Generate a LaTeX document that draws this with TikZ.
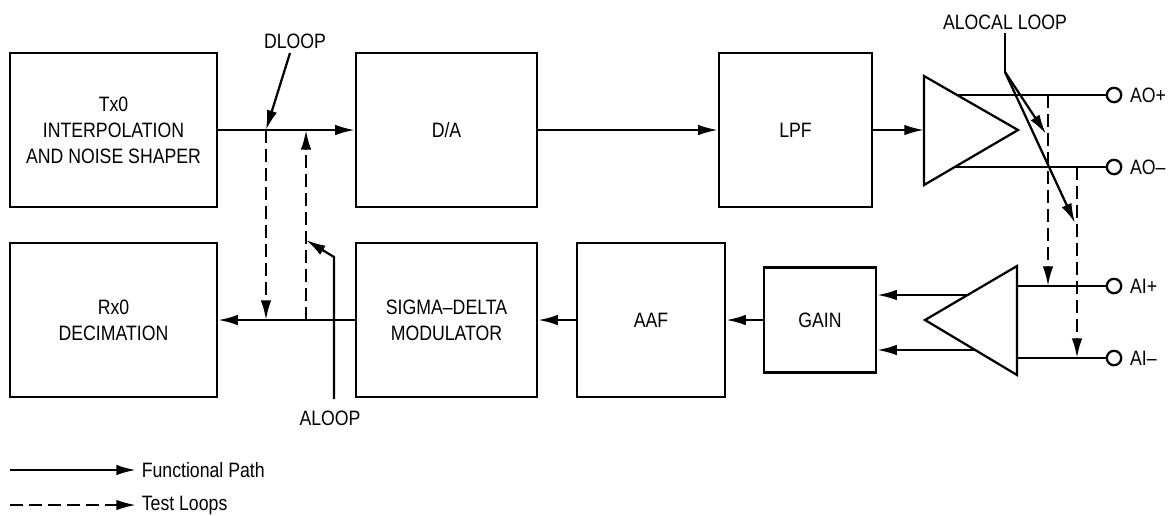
\documentclass[tikz,border=0pt]{standalone}
\usepackage{fontspec}
\setmainfont{Liberation Sans}[FakeStretch=0.85]
\setsansfont{Liberation Sans}[FakeStretch=0.85]
\usetikzlibrary{arrows.meta}

\begin{document}
\begin{tikzpicture}[x = 0.025cm, y = -0.025cm, font=\sffamily\fontsize{14.8}{18.5}\selectfont, line width = 1.6pt, >={Latex[length=14pt, width=7.5pt]}]
	\tikzstyle{blockStyle}=[draw, align = center, inner sep = 0pt, minimum height = 3.85cm]
	\tikzstyle{pinStyle}=[draw, circle, minimum size = 0.36cm, inner sep = 0pt]
	\tikzstyle{loopStyle}=[dash pattern = on 9pt off 4.5pt]
	\useasboundingbox (0,0) rectangle (1169,515);
	% blocks
	\node[blockStyle, minimum width = 5.175cm] (tx) at (113.5,130) {Tx0\\INTERPOLATION\\AND NOISE SHAPER};
	\node[blockStyle, minimum width = 5.175cm] (rx) at (113.5,320) {Rx0\\DECIMATION};
	\node[blockStyle, minimum width = 4.525cm] (da) at (446.5,130) {D/A};
	\node[blockStyle, minimum width = 4.525cm] (sd) at (446.5,320) {SIGMA--DELTA\\MODULATOR};
	\node[blockStyle, minimum width = 3.825cm] (lpf) at (795.5,130) {LPF};
	\node[blockStyle, minimum width = 3.7cm] (aaf) at (651,320) {AAF};
	\node[blockStyle, minimum width = 2.8cm, minimum height = 2.625cm] (gain) at (820,320) {GAIN};
	% amplifiers
	\coordinate (txA1) at (924,76);
	\coordinate (txA2) at (924,185);
	\coordinate (txTip) at (1018,130);
	\coordinate (rxA1) at (1017,266);
	\coordinate (rxA2) at (1017,375);
	\coordinate (rxTip) at (925,320);
	\draw (txA1) -- (txA2) -- (txTip) -- cycle;
	\draw (rxA1) -- (rxA2) -- (rxTip) -- cycle;
	% pins
	\node[pinStyle] (aop) at (1114,95) {};
	\node[pinStyle] (aom) at (1114,167) {};
	\node[pinStyle] (aip) at (1114,286) {};
	\node[pinStyle] (aim) at (1114,358) {};
	\node[anchor = west, inner sep = 0pt] (aopL) at (1129,95) {AO+};
	\node[anchor = west, inner sep = 0pt] (aomL) at (1129,167) {AO--};
	\node[anchor = west, inner sep = 0pt] (aipL) at (1129,286) {AI+};
	\node[anchor = west, inner sep = 0pt] (aimL) at (1129,358) {AI--};
	\coordinate (aopOut) at (957,95);
	\coordinate (aomOut) at (955,167);
	\draw (aopOut) -- (aop);
	\draw (aomOut) -- (aom);
	\draw (rxA1 |- aip) -- (aip);
	\draw (rxA1 |- aim) -- (aim);
	% functional path
	\coordinate (txIn) at (924,130);
	\coordinate (rxOut1) at (969,295);
	\coordinate (rxOut2) at (974,350);
	\draw[->] (tx) -- (da);
	\draw[->] (da) -- (lpf);
	\draw[->] (lpf) -- (txIn);
	\draw[->] (rxOut1) -- (rxOut1 -| gain.east);
	\draw[->] (rxOut2) -- (rxOut2 -| gain.east);
	\draw[->] (gain) -- (aaf);
	\draw[->] (aaf) -- (sd);
	\draw[->] (sd) -- (rx);
	% test loops
	\coordinate (dTap) at (266,130);
	\coordinate (aTap) at (306,320);
	\coordinate (aopTap) at (1048,95);
	\coordinate (aomTap) at (1077,167);
	\draw[loopStyle, ->] (dTap) -- (dTap |- rx);
	\draw[loopStyle, ->] (aTap) -- (aTap |- tx);
	\draw[loopStyle, ->] (aopTap) -- (aopTap |- aip);
	\draw[loopStyle, ->] (aomTap) -- (aomTap |- aim);
	% loop labels
	\node (dloopL) at (295,41) {DLOOP};
	\node (aloopL) at (330,418) {ALOOP};
	\node (alocalL) at (1005,22) {ALOCAL LOOP};
	\coordinate (dFrom) at (290,53);
	\coordinate (aFoot) at (334,399);
	\coordinate (aBend) at (334,257);
	\coordinate (aHit) at (306,240);
	\coordinate (alocalTop) at (1005,33);
	\coordinate (alocalK) at (1005,72);
	\coordinate (alocalHit1) at (1046,134);
	\coordinate (alocalHit2) at (1075,223);
	\draw[->] (dFrom) -- (dTap);
	\draw[->] (aFoot) -- (aBend) -- (aHit);
	\draw (alocalTop) -- (alocalK);
	\draw[->] (alocalK) -- (alocalHit1);
	\draw[->] (alocalK) -- (alocalHit2);
	% legend
	\coordinate (solidA) at (10,470);
	\coordinate (dashA) at (10,505);
	\node[anchor = west] (funcL) at (136,470) {Functional Path};
	\node[anchor = west] (testL) at (136,505) {Test Loops};
	\draw[->] (solidA) -- (funcL.west);
	\draw[loopStyle, ->] (dashA) -- (testL.west);
\end{tikzpicture}
\end{document}
